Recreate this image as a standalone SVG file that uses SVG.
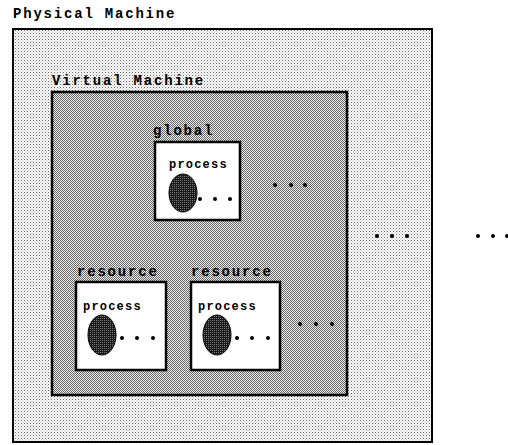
<svg xmlns="http://www.w3.org/2000/svg" width="508" height="445" viewBox="0 0 508 445">
<defs>
<pattern id="light" width="3" height="3" patternUnits="userSpaceOnUse">
<rect width="3" height="3" fill="#ffffff"/>
<rect x="0" y="0" width="1" height="1" fill="#6a6a6a"/>
<rect x="1.5" y="1.5" width="1" height="1" fill="#9a9a9a"/>
</pattern>
<pattern id="dense" width="2" height="2" patternUnits="userSpaceOnUse">
<rect width="2" height="2" fill="#eeeeee"/>
<rect x="0" y="0" width="1" height="1" fill="#666666"/>
<rect x="1" y="1" width="1" height="1" fill="#666666"/>
</pattern>
<pattern id="blob" width="2" height="2" patternUnits="userSpaceOnUse">
<rect width="2" height="2" fill="#1a1a1a"/>
<rect x="0" y="0" width="1" height="1" fill="#7a7a7a"/>
</pattern>
</defs>
<style>
text{font-family:"Liberation Mono","Courier New",monospace;font-weight:bold;fill:#000}
.lbl{font-size:14px;letter-spacing:1.8px}
.proc{font-size:12px;letter-spacing:1.2px}
.box{fill:#ffffff;stroke:#000;stroke-width:2.5}
.blob{fill:url(#blob);stroke:#000;stroke-width:1}
.dot{fill:#000}
</style>
<g id="physical-machine">
<text class="lbl" x="13" y="18">Physical Machine</text>
<rect x="13" y="29" width="419" height="413" fill="url(#light)" stroke="#000" stroke-width="2"/>
</g>
<g id="virtual-machine">
<text class="lbl" x="52" y="85">Virtual Machine</text>
<rect x="52" y="92" width="295" height="303" fill="url(#dense)" stroke="#000" stroke-width="2.5"/>
</g>
<g id="global">
<text class="lbl" x="153" y="135">global</text>
<rect class="box" x="155" y="142" width="85" height="78"/>
<text class="proc" x="169" y="168">process</text>
<ellipse class="blob" cx="183" cy="193" rx="14" ry="19"/>
<circle class="dot" cx="200" cy="199" r="2"/><circle class="dot" cx="215" cy="199" r="2"/><circle class="dot" cx="230" cy="199" r="2"/>
</g>
<g id="resource-1">
<text class="lbl" x="77" y="276">resource</text>
<rect class="box" x="76" y="282" width="90" height="88"/>
<text class="proc" x="83" y="310">process</text>
<ellipse class="blob" cx="102" cy="335" rx="14" ry="20"/>
<circle class="dot" cx="122" cy="338" r="2"/><circle class="dot" cx="137" cy="338" r="2"/><circle class="dot" cx="153" cy="338" r="2"/>
</g>
<g id="resource-2">
<text class="lbl" x="191" y="276">resource</text>
<rect class="box" x="191" y="282" width="89" height="88"/>
<text class="proc" x="198" y="310">process</text>
<ellipse class="blob" cx="217" cy="335" rx="14" ry="20"/>
<circle class="dot" cx="237" cy="338" r="2"/><circle class="dot" cx="252" cy="338" r="2"/><circle class="dot" cx="268" cy="338" r="2"/>
</g>
<g id="ellipses">
<circle class="dot" cx="275" cy="185" r="2"/><circle class="dot" cx="291" cy="185" r="2"/><circle class="dot" cx="305" cy="185" r="2"/>
<circle class="dot" cx="300" cy="324" r="2"/><circle class="dot" cx="316" cy="324" r="2"/><circle class="dot" cx="332" cy="324" r="2"/>
<circle class="dot" cx="377" cy="236" r="2"/><circle class="dot" cx="392" cy="236" r="2"/><circle class="dot" cx="407" cy="236" r="2"/>
<circle class="dot" cx="478" cy="236" r="2"/><circle class="dot" cx="493" cy="236" r="2"/><circle class="dot" cx="507" cy="236" r="2"/>
</g>
</svg>
